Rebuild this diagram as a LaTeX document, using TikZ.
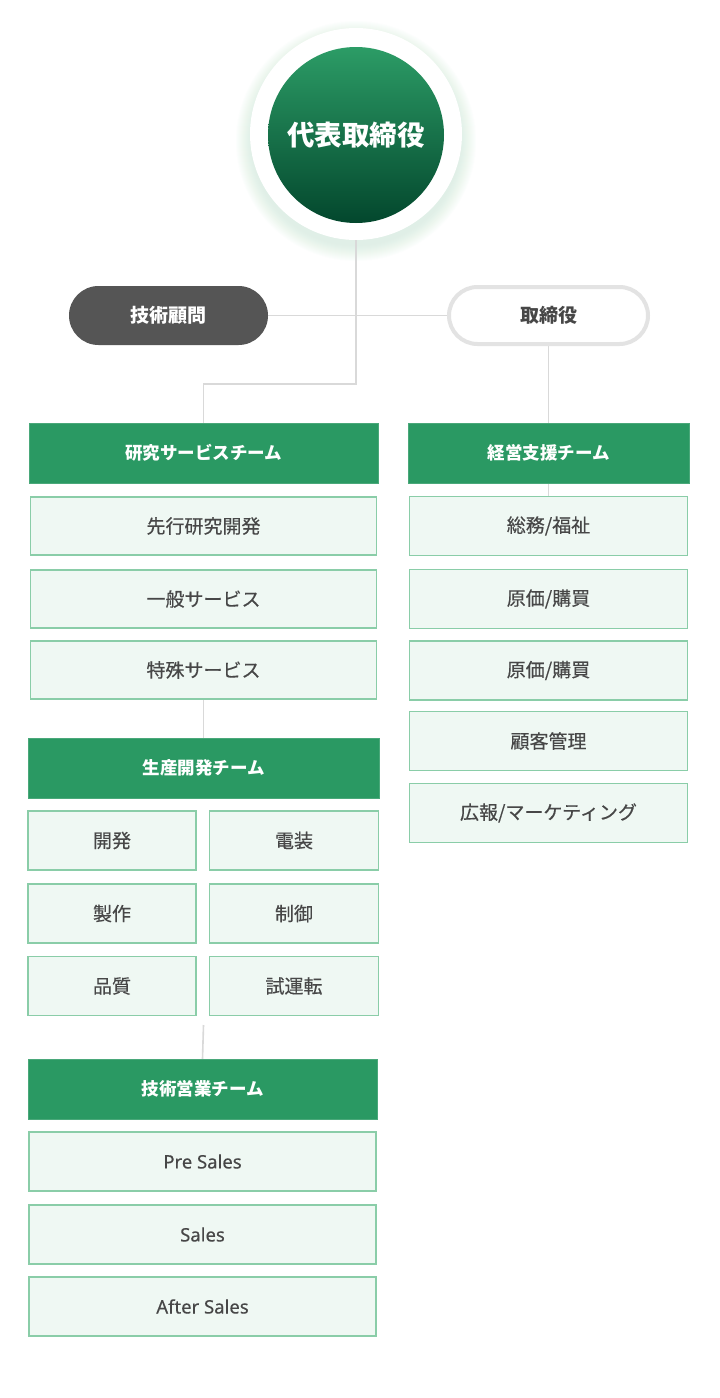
\documentclass[tikz,border=0pt]{standalone}
\usepackage{fontspec}
\setmainfont{Noto Sans CJK JP}
\newfontfamily\boxfont{Noto Sans CJK JP}[FakeBold=0.35]
\newfontfamily\latinbox{Noto Sans}[FakeBold=0.3]
\usetikzlibrary{backgrounds}
\pgfdeclarelayer{bottom}
\pgfsetlayers{bottom,background,main}
\definecolor{hdrgreen}{HTML}{2A9963}
\definecolor{boxfill}{HTML}{EFF8F3}
\definecolor{boxline}{HTML}{8ACDA8}
\definecolor{txtgray}{HTML}{474747}
\definecolor{pilldark}{HTML}{555555}
\definecolor{pillline}{HTML}{E3E3E3}
\definecolor{connline}{HTML}{D9D9D9}
\definecolor{glowgreen}{HTML}{CDE8D8}
\definecolor{ctop}{HTML}{2C9C66}
\definecolor{cbot}{HTML}{03472D}
\tikzset{
  teamhdr/.style={rectangle, fill=hdrgreen, draw=hdrgreen!85!white, line width=1pt, inner sep=0pt, outer sep=0pt,
    minimum height=60pt, text=white, font=\fontsize{17.5}{19}\selectfont\bfseries},
  itembox/.style={rectangle, fill=boxfill, draw=boxline, line width=1.3pt, inner sep=0pt, outer sep=0pt,
    minimum height=58pt, text=txtgray, font=\boxfont\fontsize{19}{21}\selectfont},
  latin/.style={font=\latinbox\fontsize{18.5}{21}\selectfont},
  conn/.style={draw=connline, line width=1.6pt},
  pilldk/.style={rectangle, rounded corners=29.5pt, fill=pilldark, inner sep=0pt, outer sep=0pt,
    minimum width=199pt, minimum height=59pt, text=white, font=\fontsize{19}{21}\selectfont\bfseries},
  pilllt/.style={rectangle, rounded corners=28.5pt, fill=white, draw=pillline, line width=4pt, inner sep=0pt, outer sep=0pt,
    minimum width=199pt, minimum height=57pt, text=txtgray, font=\fontsize{19}{21}\selectfont\bfseries},
}
\begin{document}
\begin{tikzpicture}[x=1pt,y=-1pt]
\useasboundingbox (0,0) rectangle (720,1398);
\begin{pgfonlayer}{bottom}
\fill[white] (0,0) rectangle (720,1398);
% glow around the top circle
\foreach \i in {1,...,16} {
  \fill[glowgreen, opacity=0.045] (356,141) circle ({104+\i});
}
\end{pgfonlayer}
\node[circle, fill=white, minimum size=212pt, inner sep=0pt, outer sep=0pt] (ceo) at (356,134) {};
\node[circle, top color=ctop, bottom color=cbot, minimum size=176pt, inner sep=0pt, text=white,
  font=\fontsize{27.5}{29}\selectfont\bfseries] (ceoin) at (356,135) {代表取締役};

% pills
\node[pilldk] (adv) at (168.5,315.5) {技術顧問};
\node[pilllt] (dir) at (548.5,315.5) {取締役};

% left column
\node[teamhdr, minimum width=349pt] (rs) at (203.5,453) {研究サービスチーム};
\node[itembox, minimum width=346pt] (rs1) at (203.5,526) {先行研究開発};
\node[itembox, minimum width=346pt] (rs2) at (203.5,599) {一般サービス};
\node[itembox, minimum width=346pt] (rs3) at (203.5,670) {特殊サービス};

\node[teamhdr, minimum width=351pt] (pd) at (203.5,768) {生産開発チーム};
\node[itembox, minimum width=168pt, minimum height=59pt] (pd1) at (112,840.5) {開発};
\node[itembox, minimum width=169pt, minimum height=59pt] (pd2) at (294,840.5) {電装};
\node[itembox, minimum width=168pt, minimum height=59pt] (pd3) at (112,913.5) {製作};
\node[itembox, minimum width=169pt, minimum height=59pt] (pd4) at (294,913.5) {制御};
\node[itembox, minimum width=168pt, minimum height=59pt] (pd5) at (112,986) {品質};
\node[itembox, minimum width=169pt, minimum height=59pt] (pd6) at (294,986) {試運転};
\coordinate (gridgap) at (203.5,1025);

\node[teamhdr, minimum width=349pt] (ts) at (202.5,1089) {技術営業チーム};
\node[itembox, latin, minimum width=347pt, minimum height=59pt] (ts1) at (202.5,1161.5) {Pre Sales};
\node[itembox, latin, minimum width=347pt, minimum height=59pt] (ts2) at (202.5,1234.5) {Sales};
\node[itembox, latin, minimum width=347pt, minimum height=59pt] (ts3) at (202.5,1306.5) {After Sales};

% right column
\node[teamhdr, minimum width=281pt] (ms) at (548.5,453) {経営支援チーム};
\node[itembox, minimum width=278pt, minimum height=59pt] (ms1) at (548.5,526) {総務/福祉};
\node[itembox, minimum width=278pt, minimum height=59pt] (ms2) at (548.5,599) {原価/購買};
\node[itembox, minimum width=278pt, minimum height=59pt] (ms3) at (548.5,670.5) {原価/購買};
\node[itembox, minimum width=278pt, minimum height=59pt] (ms4) at (548.5,741) {顧客管理};
\node[itembox, minimum width=278pt, minimum height=59pt] (ms5) at (548.5,813) {広報/マーケティング};

% connectors
\begin{pgfonlayer}{background}
\draw[conn] (ceo.south) -- (ceo.south |- 0,384) -| (rs.north);
\draw[conn] (adv.east) -- (dir.west);
\draw[conn] (dir.south) -- (ms1.north);
\draw[conn] (rs3.south) -- (pd.north);
\draw[conn] (gridgap) -- (ts.north);
\end{pgfonlayer}
\end{tikzpicture}
\end{document}
